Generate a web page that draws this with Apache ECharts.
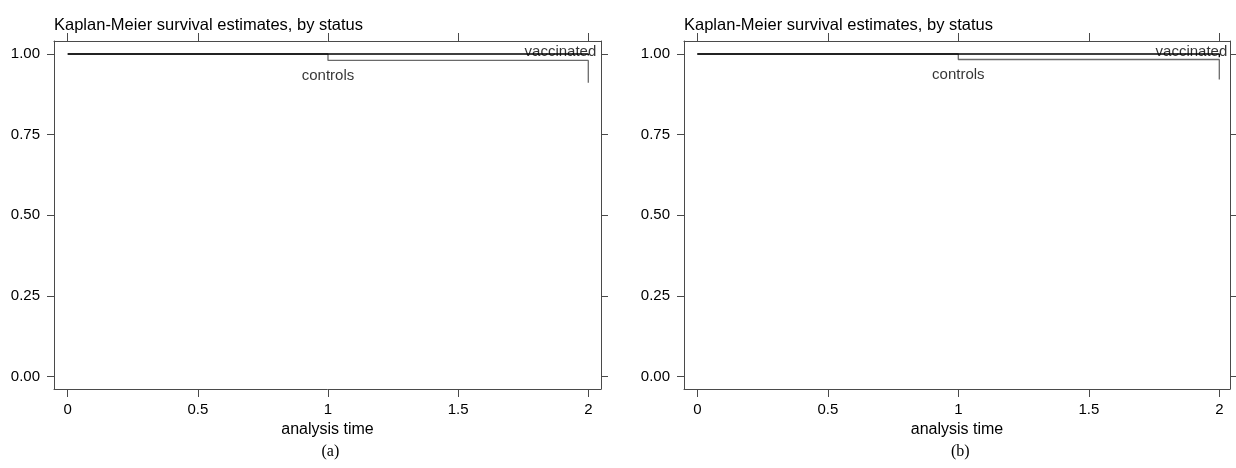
<!DOCTYPE html>
<html>
<head>
<meta charset="utf-8">
<script src="https://cdn.jsdelivr.net/npm/echarts@6/dist/echarts.min.js"></script>
<style>
  html, body { margin: 0; padding: 0; background: #fff; }
  #chart { width: 1236px; height: 468px; }
</style>
</head>
<body>
<div id="chart"></div>
<script>
// Kaplan-Meier step estimates
const times = [0, 1, 2];
const controlsA = [1, 0.98, 0.911];
const vaccinatedA = [1, 1, 0.995];
const controlsB = [1, 0.983, 0.921];
const vaccinatedB = [1, 1, 0.99];

const xTicks = [0, 0.5, 1, 1.5, 2];
const yTicks = [0, 0.25, 0.5, 0.75, 1];
const titleText = 'Kaplan-Meier survival estimates, by status';
const xName = 'analysis time';
const captions = ['(a)', '(b)'];

const FONT = '"Liberation Sans", Arial, sans-serif';
const AXIS_COLOR = '#4a4a4a';

const pairs = (ys) => times.map((t, i) => [t, ys[i]]);

// one panel = one grid with bottom/top x axes and left/right y axes,
// the four axis lines together draw the plot box
const panels = [
  { left: 54, width: 547, xMin: -0.0526, xMax: 2.0488, controls: controlsA, vaccinated: vaccinatedA },
  { left: 684, width: 546, xMin: -0.051, xMax: 2.041, controls: controlsB, vaccinated: vaccinatedB },
];

const grid = [], xAxis = [], yAxis = [], series = [];

panels.forEach((p, i) => {
  grid.push({ left: p.left, width: p.width, top: 41, height: 348, containLabel: false });
  const line = { show: true, onZero: false, lineStyle: { color: AXIS_COLOR, width: 1 } };
  const tick = { show: true, length: 8, customValues: xTicks, lineStyle: { color: AXIS_COLOR } };
  xAxis.push({
    gridIndex: i, type: 'value', position: 'bottom', min: p.xMin, max: p.xMax,
    axisLine: line, axisTick: tick, splitLine: { show: false },
    axisLabel: { customValues: xTicks, color: '#000', fontFamily: FONT, fontSize: 15, margin: 13 },
    name: xName, nameLocation: 'middle', nameGap: 33,
    nameTextStyle: { color: '#000', fontFamily: FONT, fontSize: 16 },
  });
  xAxis.push({
    gridIndex: i, type: 'value', position: 'top', min: p.xMin, max: p.xMax,
    axisLine: line, axisTick: tick, axisLabel: { show: false }, splitLine: { show: false },
  });
  const ytick = { show: true, length: 7, customValues: yTicks, lineStyle: { color: AXIS_COLOR } };
  yAxis.push({
    gridIndex: i, type: 'value', position: 'left', min: -0.0388, max: 1.0403,
    axisLine: line, axisTick: ytick, splitLine: { show: false },
    axisLabel: {
      customValues: yTicks, color: '#000', fontFamily: FONT, fontSize: 15, margin: 14,
      formatter: (v) => v.toFixed(2),
    },
  });
  yAxis.push({
    gridIndex: i, type: 'value', position: 'right', min: -0.0388, max: 1.0403,
    axisLine: line, axisTick: ytick, axisLabel: { show: false }, splitLine: { show: false },
  });

  const xi = i * 2, yi = i * 2;
  series.push({
    name: 'controls', type: 'line', step: 'end', xAxisIndex: xi, yAxisIndex: yi,
    data: pairs(p.controls), symbol: 'none', silent: true,
    lineStyle: { color: '#6a6a6a', width: 1.3 },
  });
  series.push({
    name: 'vaccinated', type: 'line', step: 'end', xAxisIndex: xi, yAxisIndex: yi,
    data: pairs(p.vaccinated), symbol: 'none', silent: true,
    lineStyle: { color: '#000', width: 1.3 },
  });
  // curve labels, anchored on the step points
  series.push({
    type: 'scatter', xAxisIndex: xi, yAxisIndex: yi, symbolSize: 0, silent: true,
    data: [
      { value: [times[2], p.vaccinated[1]], label: { formatter: 'vaccinated', position: 'left', offset: [13, -2] } },
      { value: [times[1], p.controls[1]], label: { formatter: 'controls', position: 'bottom', offset: [0, 3] } },
    ],
    label: { show: true, color: '#000', fontFamily: FONT, fontSize: 15 },
  });
});

const chart = echarts.init(document.getElementById('chart'), null, { renderer: 'canvas' });
chart.setOption({
  animation: false,
  backgroundColor: '#fff',
  title: panels.map((p) => ({
    text: titleText, left: p.left - 5, top: 12,
    textStyle: { color: '#000', fontFamily: FONT, fontSize: 16.5, fontWeight: 'normal' },
  })).concat(captions.map((c, i) => ({
    text: c, left: panels[i].left + panels[i].width / 2 - 11, top: 439,
    textStyle: { color: '#000', fontFamily: '"Liberation Serif", "Times New Roman", serif', fontSize: 16, fontWeight: 'normal' },
  }))),
  grid, xAxis, yAxis, series,
});
</script>
</body>
</html>
